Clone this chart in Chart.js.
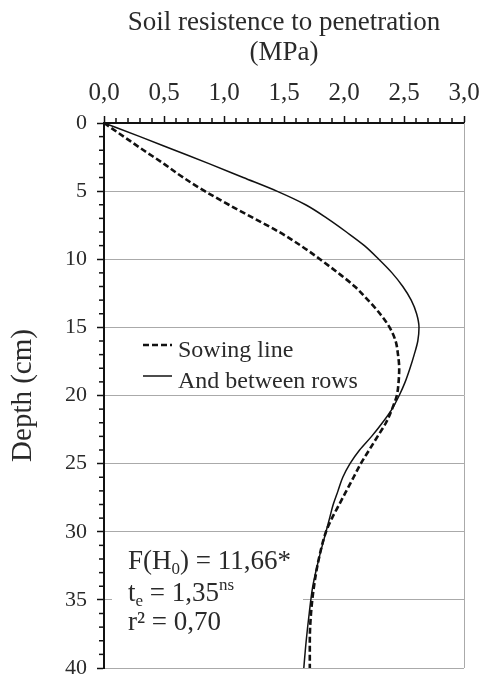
<!DOCTYPE html>
<html>
<head>
<meta charset="utf-8">
<script src="https://cdn.jsdelivr.net/npm/chart.js@4.4.0/dist/chart.umd.min.js"></script>
<style>
  html, body { margin: 0; padding: 0; background: #fff; }
  #wrap { width: 480px; height: 675px; }
</style>
</head>
<body>
<div id="wrap"><canvas id="soilChart" width="480" height="675"></canvas></div>
<script>
// depth (cm) and resistance (MPa)
const depths = [0, 1, 2, 3, 4, 5, 6, 7, 8, 9, 10, 11, 12, 13, 14, 15, 16, 17, 18, 19, 20,
  21, 22, 23, 24, 25, 26, 27, 28, 29, 30, 32, 34, 36, 38, 40];
const sowingLine = [0, 0.165, 0.33, 0.5, 0.66, 0.84, 1.04, 1.25, 1.46, 1.64, 1.8, 1.95, 2.09, 2.2, 2.3, 2.38, 2.43, 2.45, 2.46, 2.455, 2.44,
  2.4, 2.35, 2.28, 2.21, 2.14, 2.08, 2.02, 1.96, 1.9, 1.85, 1.79, 1.75, 1.725, 1.715, 1.715];
const betweenRows = [0, 0.3, 0.59, 0.88, 1.16, 1.44, 1.68, 1.86, 2.02, 2.17, 2.29, 2.4, 2.49, 2.56, 2.605, 2.625, 2.615, 2.585, 2.55, 2.51, 2.46,
  2.4, 2.32, 2.23, 2.13, 2.05, 1.99, 1.95, 1.91, 1.88, 1.85, 1.79, 1.74, 1.71, 1.685, 1.665];
const seriesNames = ["Sowing line", "And between rows"];
const xTicks = [0, 0.5, 1, 1.5, 2, 2.5, 3];
const yTicks = [0, 5, 10, 15, 20, 25, 30, 35, 40];

const serif = "'Liberation Serif', 'Times New Roman', serif";
const textColor = "#2a2a2a";

function toPoints(values) {
  return values.map((v, i) => ({ x: v, y: depths[i] }));
}

// minor ticks, right border, legend and stats box
const extras = {
  id: "extras",
  afterDraw(chart) {
    const ctx = chart.ctx;
    const area = chart.chartArea;
    const xs = chart.scales.x;
    const ys = chart.scales.y;
    ctx.save();
    ctx.strokeStyle = "#aaa";
    ctx.lineWidth = 1;
    ctx.beginPath();
    ctx.moveTo(area.right + 0.5, area.top);
    ctx.lineTo(area.right + 0.5, area.bottom);
    ctx.stroke();

    ctx.strokeStyle = "#111";
    ctx.lineWidth = 1.5;
    for (let i = 1; i < 30; i++) {
      if (i % 5 === 0) continue;
      const px = xs.getPixelForValue(i / 10);
      ctx.beginPath();
      ctx.moveTo(px, area.top - 5);
      ctx.lineTo(px, area.top);
      ctx.stroke();
    }
    for (let d = 1; d < 40; d++) {
      if (d % 5 === 0) continue;
      const py = ys.getPixelForValue(d);
      ctx.beginPath();
      ctx.moveTo(area.left - 5, py);
      ctx.lineTo(area.left, py);
      ctx.stroke();
    }

    // legend
    ctx.font = "24px " + serif;
    ctx.fillStyle = textColor;
    ctx.textBaseline = "alphabetic";
    chart.data.datasets.forEach((ds, i) => {
      const y = 345 + i * 31;
      ctx.strokeStyle = ds.borderColor;
      ctx.lineWidth = ds.borderWidth;
      ctx.setLineDash(ds.borderDash || []);
      ctx.beginPath();
      ctx.moveTo(143, y);
      ctx.lineTo(172, y);
      ctx.stroke();
      ctx.setLineDash([]);
      ctx.fillText(ds.label, 178, y + 12);
    });

    // stats box
    ctx.fillStyle = "#fff";
    ctx.fillRect(112, 540, 191, 100);
    ctx.fillStyle = textColor;
    let x = 128;
    ctx.font = "27px " + serif;
    ctx.fillText("F(H", x, 569);
    x += ctx.measureText("F(H").width;
    ctx.font = "17px " + serif;
    ctx.fillText("0", x, 574);
    x += ctx.measureText("0").width;
    ctx.font = "27px " + serif;
    ctx.fillText(") = 11,66*", x, 569);

    x = 128;
    ctx.fillText("t", x, 601);
    x += ctx.measureText("t").width;
    ctx.font = "17px " + serif;
    ctx.fillText("e", x, 606);
    x += ctx.measureText("e").width;
    ctx.font = "27px " + serif;
    ctx.fillText(" = 1,35", x, 601);
    x += ctx.measureText(" = 1,35").width;
    ctx.font = "17px " + serif;
    ctx.fillText("ns", x, 590);

    ctx.font = "27px " + serif;
    ctx.fillText("r\u00b2 = 0,70", 128, 630);
    ctx.restore();
  }
};

new Chart(document.getElementById("soilChart"), {
  type: "scatter",
  data: {
    datasets: [
      {
        label: seriesNames[0],
        data: toPoints(sowingLine),
        showLine: true,
        borderColor: "#111",
        borderWidth: 2.6,
        borderDash: [6, 3],
        pointRadius: 0,
        cubicInterpolationMode: "monotone",
      },
      {
        label: seriesNames[1],
        data: toPoints(betweenRows),
        showLine: true,
        borderColor: "#111",
        borderWidth: 1.5,
        pointRadius: 0,
        cubicInterpolationMode: "monotone",
      },
    ],
  },
  options: {
    responsive: false,
    animation: false,
    indexAxis: "y",
    layout: { padding: { top: 0, right: 16, bottom: 7, left: 0 } },
    plugins: {
      legend: { display: false },
      tooltip: { enabled: false },
    },
    scales: {
      x: {
        type: "linear",
        position: "top",
        min: 0,
        max: 3,
        afterBuildTicks: (scale) => { scale.ticks = xTicks.map((v) => ({ value: v })); },
        afterFit: (scale) => {
          scale.height = 123;
          scale.paddingLeft = 0;
          scale.paddingRight = 0;
        },
        ticks: {
          callback: (v) => v.toFixed(1).replace(".", ","),
          font: { family: serif, size: 25 },
          color: textColor,
          padding: 8,
          maxRotation: 0,
        },
        grid: { drawOnChartArea: false, tickLength: 7, tickColor: "#111", tickWidth: 1.5 },
        border: { color: "#111", width: 2 },
        title: {
          display: true,
          text: ["Soil resistence to penetration", "(MPa)"],
          font: { family: serif, size: 27, lineHeight: 1.1 },
          color: textColor,
          padding: { top: 8, bottom: 0 },
        },
      },
      y: {
        type: "linear",
        position: "left",
        reverse: true,
        min: 0,
        max: 40,
        afterBuildTicks: (scale) => { scale.ticks = yTicks.map((v) => ({ value: v })); },
        afterFit: (scale) => {
          scale.width = 104;
          scale.paddingTop = 0;
          scale.paddingBottom = 0;
        },
        ticks: {
          font: { family: serif, size: 22 },
          color: textColor,
          padding: 10,
        },
        grid: {
          color: (c) => (c.tick && c.tick.value === 0 ? "rgba(0,0,0,0)" : "#aaa"),
          lineWidth: 1,
          tickLength: 7,
          tickColor: "#111",
          tickWidth: 1.5,
        },
        border: { color: "#111", width: 2 },
        title: {
          display: true,
          text: "Depth (cm)",
          font: { family: serif, size: 29 },
          color: textColor,
          padding: { top: 6, bottom: 0 },
        },
      },
    },
  },
  plugins: [extras],
});
</script>
</body>
</html>
